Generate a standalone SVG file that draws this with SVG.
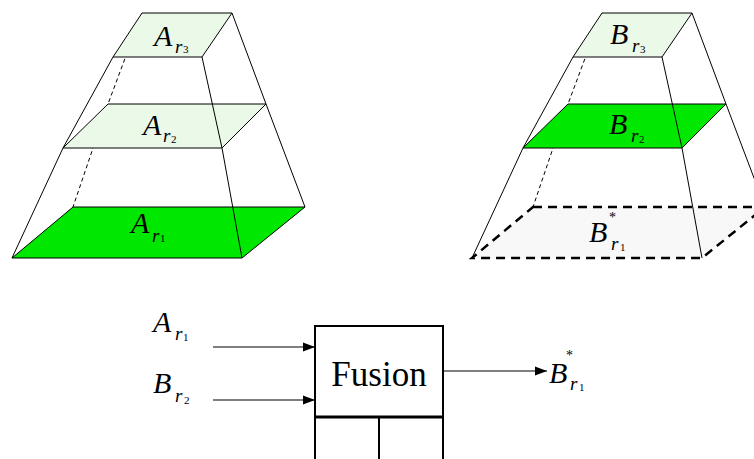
<svg xmlns="http://www.w3.org/2000/svg" width="754" height="459" viewBox="0 0 754 459">
<style>
.e{fill:none;stroke:#000;stroke-width:1}
.h{fill:none;stroke:#000;stroke-width:1;stroke-dasharray:4 3}
.pl{fill:#ebf9e9;stroke:#000;stroke-width:1}
.pg{fill:#00e800;stroke:#000;stroke-width:1}
.pd{fill:#f8f8f8;stroke:#000;stroke-width:2.5;stroke-dasharray:9 6}
.box{fill:#fff;stroke:#000;stroke-width:2}
.ln{stroke:#000;stroke-width:1.2;fill:none}
</style>
<defs>
<marker id="ah" markerWidth="12" markerHeight="10" refX="12" refY="5" orient="auto" markerUnits="userSpaceOnUse">
<path d="M0,0.5 L12,5 L0,9.5 Z" fill="#000"/>
</marker>
</defs>

<g id="pyramidA">
<path class="h" d="M142,13 L108,104 L73,207"/>
<polygon class="pg" points="73,207 305,207 242,258 12,258"/>
<polygon class="pl" points="108,104 266,104 222,148 63,148"/>
<polygon class="pl" points="142,13 232,13 202,57 113,57"/>
<path class="e" d="M113,57 L63,148 L12,258"/>
<path class="e" d="M202,57 L222,148 L242,258"/>
<path class="e" d="M232,13 L266,104 L305,207"/>
<text font-family="Liberation Serif" font-style="italic" font-size="30" x="154" y="46">A</text><text font-family="Liberation Serif" font-style="italic" font-size="19" x="175" y="53">r</text><text font-family="Liberation Serif" font-size="11" x="183" y="53">3</text>
<text font-family="Liberation Serif" font-style="italic" font-size="30" x="143" y="135">A</text><text font-family="Liberation Serif" font-style="italic" font-size="19" x="163" y="142">r</text><text font-family="Liberation Serif" font-size="11" x="171" y="143">2</text>
<text font-family="Liberation Serif" font-style="italic" font-size="30" x="131" y="233">A</text><text font-family="Liberation Serif" font-style="italic" font-size="19" x="152" y="242">r</text><text font-family="Liberation Serif" font-size="11" x="160" y="242">1</text>
</g>

<g id="pyramidB">
<path class="h" d="M602,13 L568,104 L533,207"/>
<polygon class="pd" points="533,207 765,207 702,258 472,258"/>
<polygon class="pg" points="568,104 726,104 682,148 523,148"/>
<polygon class="pl" points="602,13 692,13 662,57 573,57"/>
<path class="e" d="M573,57 L523,148 L472,258"/>
<path class="e" d="M662,57 L682,148 L702,258"/>
<path class="e" d="M692,13 L726,104 L765,207"/>
<text font-family="Liberation Serif" font-style="italic" font-size="30" x="610" y="44">B</text><text font-family="Liberation Serif" font-style="italic" font-size="19" x="632" y="52">r</text><text font-family="Liberation Serif" font-size="11" x="640" y="53">3</text>
<text font-family="Liberation Serif" font-style="italic" font-size="30" x="609" y="134">B</text><text font-family="Liberation Serif" font-style="italic" font-size="19" x="631" y="142">r</text><text font-family="Liberation Serif" font-size="11" x="639" y="143">2</text>
<text font-family="Liberation Serif" font-style="italic" font-size="30" x="589" y="242">B</text><text font-family="Liberation Serif" font-size="14" x="609" y="222">*</text><text font-family="Liberation Serif" font-style="italic" font-size="19" x="611" y="250">r</text><text font-family="Liberation Serif" font-size="11" x="620" y="251">1</text>
</g>

<g id="fusion">
<rect class="box" x="315" y="326" width="128" height="91"/>
<path d="M315,417 L315,459 M379,417 L379,459 M443,417 L443,459" stroke="#000" stroke-width="2" fill="none"/>
<path d="M314,417 L444,417" stroke="#000" stroke-width="3"/>
<text font-family="Liberation Serif" x="379" y="386" font-size="35" text-anchor="middle">Fusion</text>
</g>

<g id="labels">
<text font-family="Liberation Serif" font-style="italic" font-size="30" x="153" y="332">A</text><text font-family="Liberation Serif" font-style="italic" font-size="19" x="175" y="340">r</text><text font-family="Liberation Serif" font-size="11" x="183" y="341">1</text>
<text font-family="Liberation Serif" font-style="italic" font-size="30" x="153" y="393">B</text><text font-family="Liberation Serif" font-style="italic" font-size="19" x="175" y="402">r</text><text font-family="Liberation Serif" font-size="11" x="184" y="404">2</text>
<text font-family="Liberation Serif" font-style="italic" font-size="30" x="549" y="383">B</text><text font-family="Liberation Serif" font-size="14" x="566" y="360">*</text><text font-family="Liberation Serif" font-style="italic" font-size="19" x="570" y="390">r</text><text font-family="Liberation Serif" font-size="11" x="579" y="391">1</text>
</g>

<g id="connectors">
<path class="ln" d="M213,347 L315,347" marker-end="url(#ah)"/>
<path class="ln" d="M213,400 L315,400" marker-end="url(#ah)"/>
<path class="ln" d="M443,371 L547,371" marker-end="url(#ah)"/>
</g>
</svg>
